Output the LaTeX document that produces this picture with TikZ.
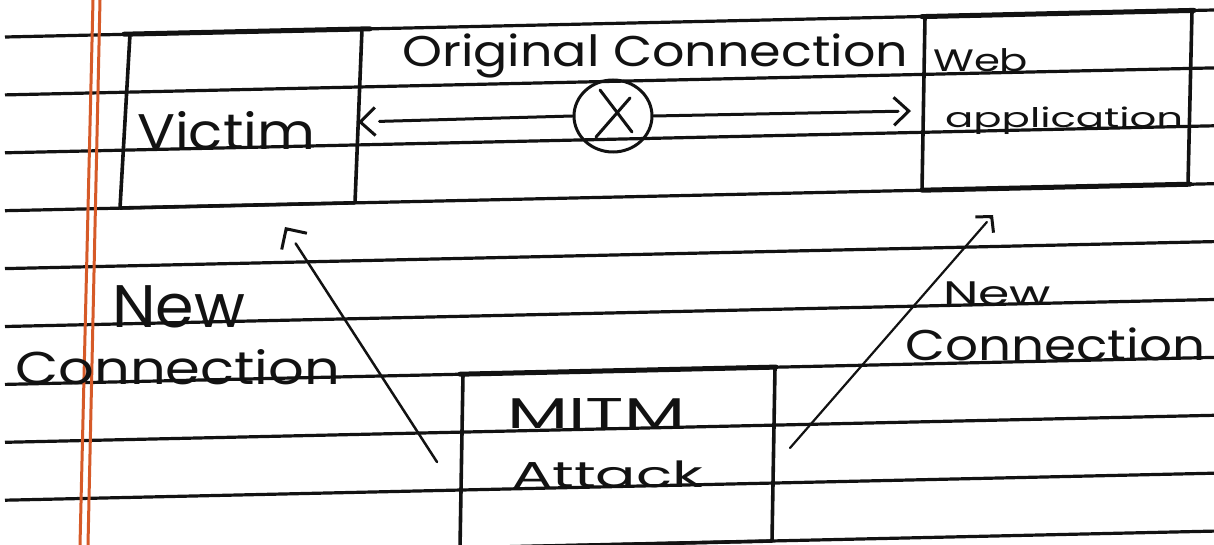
\documentclass[tikz,border=0pt]{standalone}
\usepackage{fontspec}
\setmainfont{Poppins}
\usetikzlibrary{arrows.meta,shapes.geometric,calc}
\definecolor{ink}{RGB}{18,18,18}
\definecolor{margin}{RGB}{214,90,40}
% handwritten-looking label: size (pt), width (pt), text
\newcommand\hw[3]{\resizebox{#2pt}{\height}{\fontsize{#1}{#1}\selectfont #3}}
\begin{document}
\begin{tikzpicture}[x=1pt,y=-1pt,
  ruling/.style={line width=3.2pt, draw=ink},
  boxline/.style={line width=3.6pt, draw=ink, line join=round},
  boxtop/.style={line width=5pt, draw=ink, line cap=round},
  pen/.style={line width=3pt, draw=ink, line cap=round, line join=round},
  lbl/.style={inner sep=0pt, anchor=base west, text=ink},
  barbH/.style={-{Straight Barb[length=15pt,width=28pt]}},
  barbD/.style={-{Straight Barb[length=15pt,width=30pt]}}]
\useasboundingbox (0,0) rectangle (1214,545);
\fill[white] (0,0) rectangle (1214,545);

% ruled notebook lines
\foreach \i in {0,...,9}
  \draw[ruling] (5,{37+57.9*\i}) -- (1214,{37+57.9*\i-27});

% red margin
\draw[margin, line width=3pt] (93,0) -- (80,545);
\draw[margin, line width=3pt] (100,0) -- (88,545);

% boxes
\draw[boxline] (130,34.1) -- (362,29) -- (355,202.8) -- (120,208) -- cycle;
\draw[boxtop] (124,34.2) -- (370,28.8);
\draw[boxline] (925,16.5) -- (1192,10.5) -- (1188,184.3) -- (922,190.2) -- cycle;
\draw[boxtop] (922,16.6) -- (1194,10.4);
\draw[boxtop] (922,190.2) -- (1190,184.2);
\draw[boxline] (463,374.1) -- (775,367.2) -- (772,541) -- (460,547.9) -- cycle;
\draw[boxtop] (460,374.2) -- (776,367.1);

% labels
\node[lbl] (orig)   at (402,67)  {\hw{43}{506}{Original Connection}};
\node[lbl] (web)    at (933,72)  {\hw{31}{95}{Web}};
\node[lbl] (app)    at (945,128) {\hw{27}{238}{application}};
\node[lbl] (victim) at (137,150) {\hw{50}{178}{Victim}};
\node[lbl] (newL)   at (112,327) {\hw{60}{133}{New}};
\node[lbl] (connL)  at (15,384)  {\hw{46}{325}{Connection}};
\node[lbl] (newR)   at (943,305) {\hw{34}{108}{New}};
\node[lbl] (connR)  at (905,360) {\hw{43}{300}{Connection}};
\node[lbl] (mitm)   at (507,428) {\hw{43}{178}{MITM}};
\node[lbl] (attack) at (512,487) {\hw{36}{191}{Attack}};

% broken original connection
\node[ellipse, draw=ink, line width=3pt, minimum width=78pt, minimum height=72pt, inner sep=0pt]
  (cross) at (613,116) {};
\draw[pen] (600,90) -- (632,132);
\draw[pen] (630,98) -- (596,137);

\coordinate (vtip) at (358,122);
\coordinate (wtip) at (911,111);
\draw[pen] (cross.west) -- ($(cross.west)!0.9!(vtip)$);
\draw[pen, barbH] ($(cross.west)!0.99!(vtip)$) -- (vtip);
\draw[pen] (cross.east) -- ($(cross.east)!0.95!(wtip)$);
\draw[pen, barbH] ($(cross.east)!0.99!(wtip)$) -- (wtip);

% new connections through the attacker
\coordinate (mL) at (437,462);
\coordinate (vL) at (285,227);
\coordinate (mR) at (790,448);
\coordinate (wR) at (993,215);
\draw[pen, line width=2.5pt] (mL) -- ($(mL)!0.93!(vL)$);
\draw[pen, barbD] ($(mL)!0.99!(vL)$) -- (vL);
\draw[pen, line width=2.2pt] (mR) -- ($(mR)!0.97!(wR)$);
\draw[pen, -{Straight Barb[length=11pt,width=24pt]}] ($(mR)!0.99!(wR)$) -- (wR);
\end{tikzpicture}
\end{document}
